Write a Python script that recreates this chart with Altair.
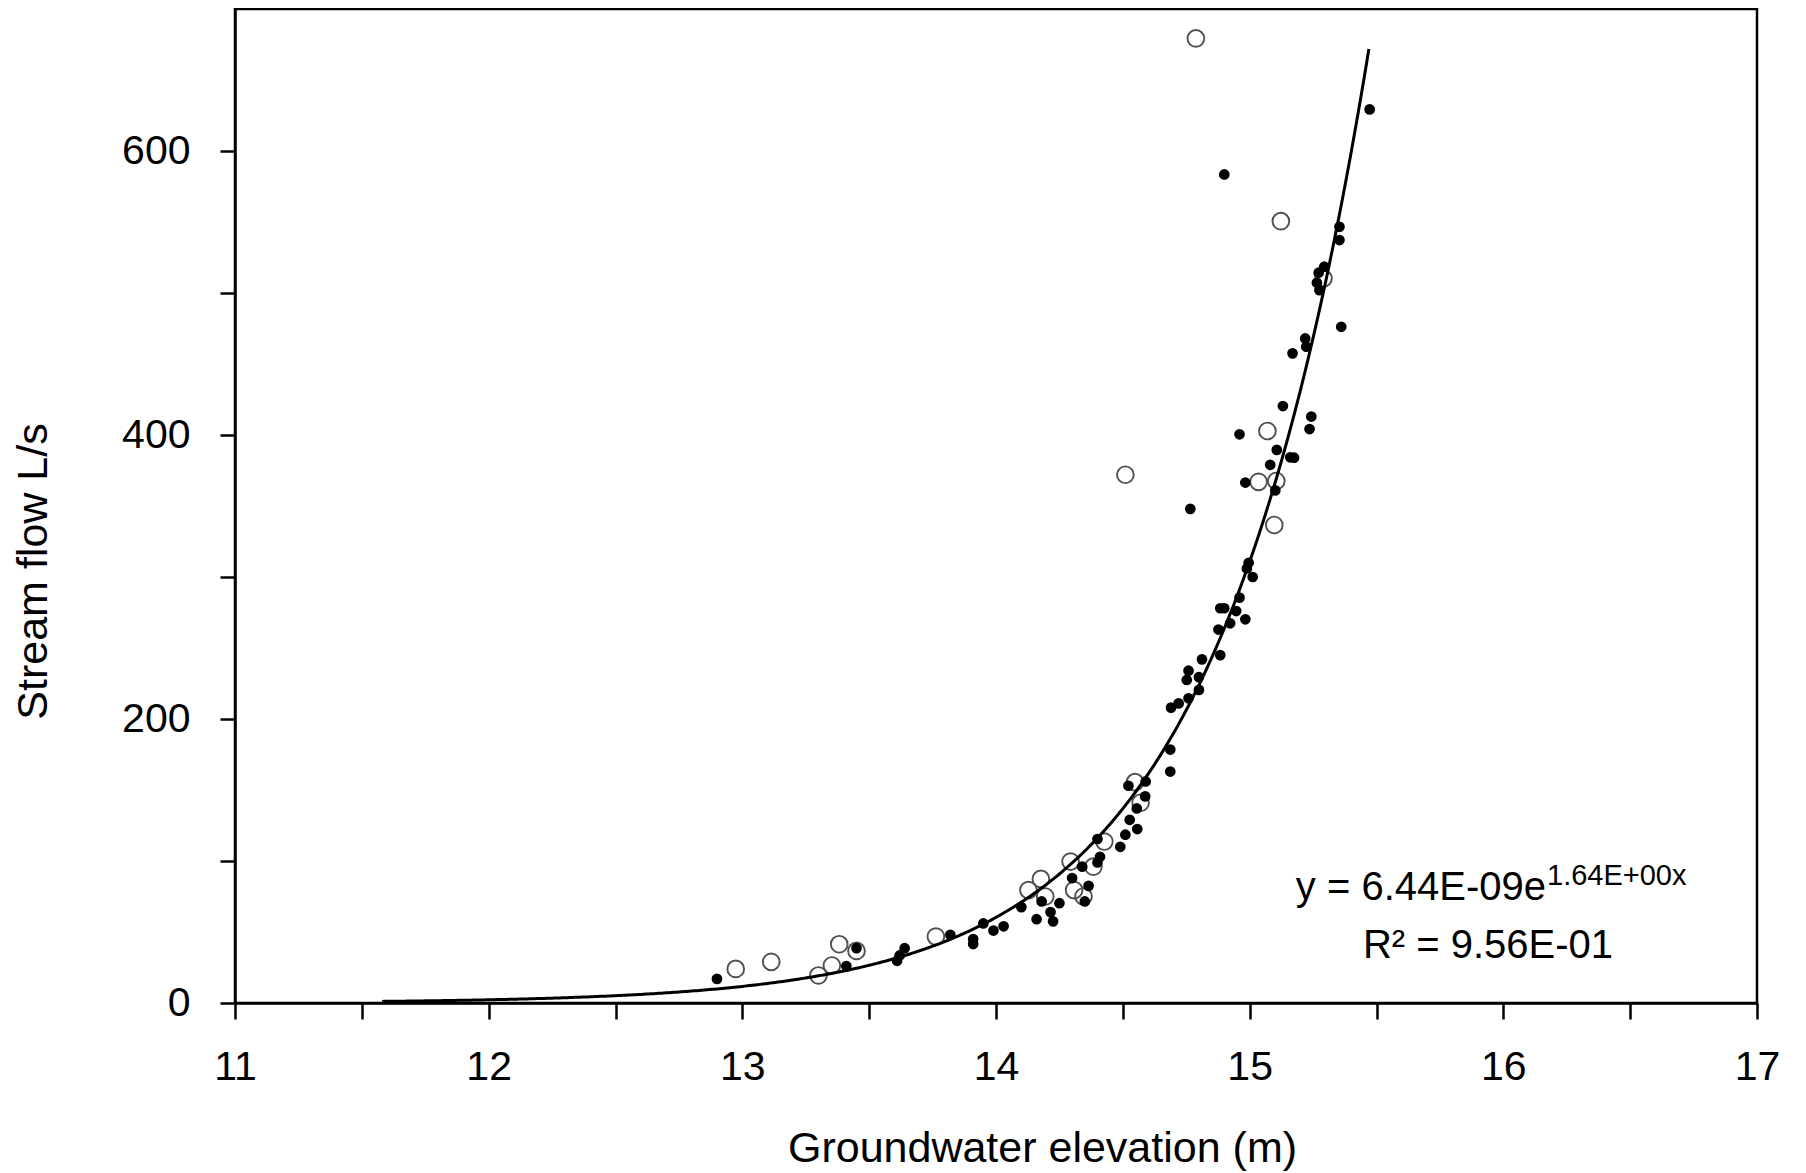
import altair as alt
import pandas as pd

# ---- data ----
filled_x = [12.90, 13.41, 13.45, 13.61, 13.62, 13.64, 13.82, 13.91, 13.91, 13.95,
            13.99, 14.03, 14.10, 14.16, 14.18, 14.215, 14.225, 14.25, 14.30, 14.34,
            14.365, 14.35, 14.40, 14.41, 14.40, 14.49, 14.51, 14.557, 14.527, 14.555,
            14.588, 14.522, 14.59, 14.687, 14.687, 14.69, 14.72, 14.759, 14.80, 14.752,
            14.759, 14.80, 14.812, 14.884, 14.877, 14.923, 14.983, 14.884, 14.90, 14.947,
            14.96, 14.989, 14.996, 15.012, 14.766, 14.983, 15.101, 15.081, 15.107, 15.16,
            15.175, 14.96, 15.236, 15.243, 15.131, 15.169, 15.223, 15.219, 15.361, 15.265,
            15.275, 15.272, 15.294, 15.354, 15.354, 14.90, 15.473]
filled_y = [17, 26, 38.6, 29.7, 33.5, 38.6, 48, 45, 41.5, 56,
            51, 54, 67.5, 59, 71.5, 64, 57.5, 70.3, 88, 96,
            82.5, 71.5, 99, 103, 115.5, 110, 118.5, 122.5, 129, 137,
            145.5, 153, 156, 163, 178.5, 208, 211, 214.6, 220.5, 227.5,
            234, 229.5, 242, 245, 263, 267.4, 270.2, 278, 278, 276,
            285.5, 306, 310, 300, 348, 366.5, 361, 379, 389.5, 384.3,
            384, 400.5, 404.2, 413, 420.4, 457.5, 462.2, 468, 476.2, 507.2,
            502, 514.3, 518.5, 537.3, 546.6, 583.5, 629.3]

open_x = [12.974, 13.114, 13.30, 13.353, 13.382, 13.45, 13.763, 14.128, 14.177, 14.194,
          14.294, 14.308, 14.345, 14.384, 14.427, 14.548, 14.57, 14.51, 15.035, 15.105,
          15.07, 15.097, 15.291, 15.123, 14.788]
open_y = [24, 29, 19.4, 26.4, 41.4, 36.7, 46.8, 79.5, 87.4, 75,
          99.6, 79.5, 75, 96, 113.7, 155.5, 141, 372, 367, 367.6,
          402.8, 336.6, 510.3, 550.6, 679.3]

# trendline as stated on the chart
FIT_A = 6.44e-09
FIT_B = 1.64
FIT_R2 = 0.956
fit_start, fit_end = 11.58, 15.47

x_ticks = [11, 11.5, 12, 12.5, 13, 13.5, 14, 14.5, 15, 15.5, 16, 16.5, 17]
y_ticks = [0, 100, 200, 300, 400, 500, 600]

FONT = "Liberation Sans"

filled_df = pd.DataFrame({"x": filled_x, "y": filled_y})
open_df = pd.DataFrame({"x": open_x, "y": open_y})

x_scale = alt.Scale(domain=[11, 17], nice=False, zero=False)
y_scale = alt.Scale(domain=[0, 700], nice=False)

x_axis = alt.Axis(
    values=x_ticks,
    labelExpr="datum.value % 1 == 0 ? format(datum.value, 'd') : ''",
    title="Groundwater elevation (m)",
    grid=False, tickSize=16, tickWidth=2.5, tickColor="black",
    domainColor="black", domainWidth=2.5,
    labelPadding=28, labelFontSize=41, labelFont=FONT, labelColor="black",
    labelFlush=False, labelOverlap=False,
    titleFont=FONT, titleFontSize=43, titleFontWeight="normal", titleColor="black",
    titleX=807, titleY=158, titleAlign="center", titleBaseline="alphabetic",
)
y_axis = alt.Axis(
    values=y_ticks,
    labelExpr="datum.value % 200 == 0 ? format(datum.value, 'd') : ''",
    title="Stream flow L/s",
    grid=False, tickSize=15, tickWidth=2.5, tickColor="black",
    domainColor="black", domainWidth=2.5,
    labelPadding=30, labelFontSize=41, labelFont=FONT, labelColor="black",
    labelOverlap=False,
    titleFont=FONT, titleFontSize=43, titleFontWeight="normal", titleColor="black",
    titleX=-180, titleY=562, titleAlign="center", titleBaseline="bottom",
)

open_layer = alt.Chart(open_df).mark_point(
    shape="circle", filled=False, size=280, stroke="#505050", strokeWidth=1.9, opacity=1
).encode(
    x=alt.X("x:Q", scale=x_scale, axis=x_axis),
    y=alt.Y("y:Q", scale=y_scale, axis=y_axis),
)

filled_layer = alt.Chart(filled_df).mark_circle(
    size=115, color="black", opacity=1
).encode(
    x=alt.X("x:Q", scale=x_scale),
    y=alt.Y("y:Q", scale=y_scale),
)

fit_layer = alt.Chart(alt.sequence(fit_start, fit_end + 0.001, 0.01, as_="x")).transform_calculate(
    y=f"{FIT_A} * exp({FIT_B} * datum.x)"
).mark_line(color="black", strokeWidth=3).encode(
    x=alt.X("x:Q", scale=x_scale),
    y=alt.Y("y:Q", scale=y_scale),
)

one = pd.DataFrame({"k": [0]})
eq_main = alt.Chart(one).mark_text(
    align="right", baseline="alphabetic", fontSize=40, font=FONT, color="black"
).encode(x=alt.value(1311), y=alt.value(891), text=alt.value(f"y = {FIT_A:.2E}e"))
eq_sup = alt.Chart(one).mark_text(
    align="left", baseline="alphabetic", fontSize=29, font=FONT, color="black"
).encode(x=alt.value(1312), y=alt.value(876), text=alt.value(f"{FIT_B:.2E}x"))
eq_r2 = alt.Chart(one).mark_text(
    align="center", baseline="alphabetic", fontSize=40, font=FONT, color="black"
).encode(x=alt.value(1253), y=alt.value(949), text=alt.value(f"R² = {FIT_R2:.2E}"))

chart = alt.layer(open_layer, filled_layer, fit_layer, eq_main, eq_sup, eq_r2).properties(
    width=1522, height=994,
    padding={"left": 227, "top": 1, "right": 40, "bottom": 170},
    autosize=alt.AutoSizeParams(type="none"),
    background="white",
).configure_view(stroke="black", strokeWidth=2.5)

chart.save("out.html", embed_options={"renderer": "svg", "actions": False})
